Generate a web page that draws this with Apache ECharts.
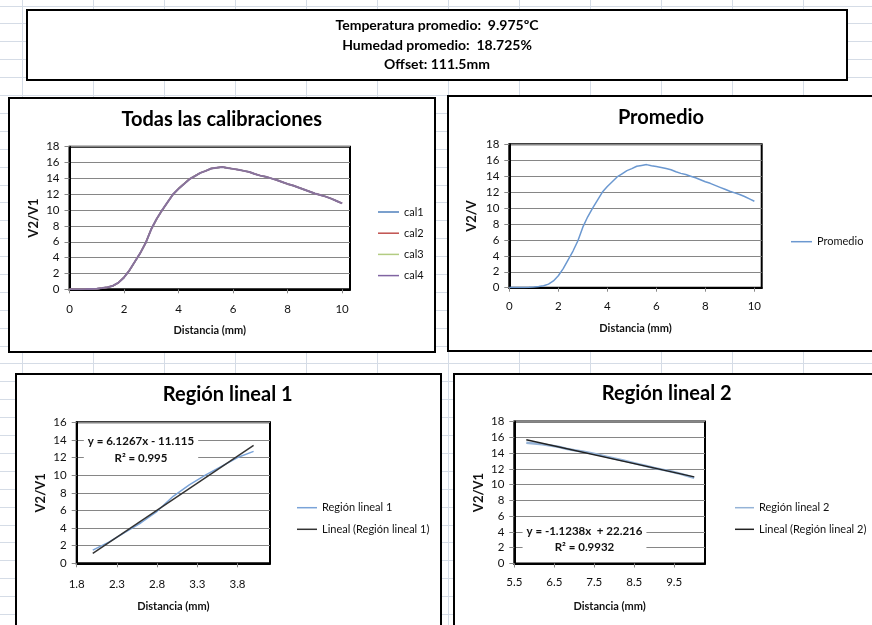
<!DOCTYPE html>
<html><head><meta charset="utf-8">
<script src="https://cdn.jsdelivr.net/npm/echarts@6/dist/echarts.min.js"></script>
<style>html,body{margin:0;padding:0;background:#fff}#c{width:872px;height:625px}</style>
</head><body><div id="c"></div>
<script>
// ---------- data ----------
const distancia = [0,0.2,0.4,0.6,0.8,1.0,1.2,1.4,1.6,1.8,2.0,2.2,2.4,2.6,2.8,3.0,3.2,3.4,3.6,3.8,4.0,4.2,4.4,4.6,4.8,5.0,5.2,5.4,5.6,5.8,6.0,6.2,6.4,6.6,6.8,7.0,7.2,7.4,7.6,7.8,8.0,8.2,8.4,8.6,8.8,9.0,9.2,9.4,9.6,9.8,10.0];
const promedio  = [0.02,0.02,0.02,0.03,0.05,0.08,0.15,0.25,0.45,0.85,1.5,2.4,3.5,4.6,5.9,7.6,8.9,10.0,11.0,12.0,12.7,13.3,13.9,14.3,14.7,14.95,15.25,15.35,15.45,15.3,15.2,15.1,14.95,14.8,14.55,14.35,14.2,14.0,13.8,13.55,13.3,13.1,12.85,12.6,12.35,12.1,11.9,11.7,11.45,11.15,10.85];
const cal1 = promedio.slice();
const cal2 = promedio.slice();
const cal3 = promedio.slice();
const cal4 = promedio.slice();
const region1Range = [2.0, 4.0];
const region2Range = [5.8, 10.0];
const trend1X = [2.0, 4.0];
const trend1Y = [1.14, 13.39];
const trend2X = [5.8, 10.0];
const trend2Y = [15.70, 10.98];
const eq1 = 'y = 6.1267x - 11.115', r2_1 = 'R² = 0.995';
const eq2 = 'y = -1.1238x  + 22.216', r2_2 = 'R² = 0.9932';
const header = ['Temperatura promedio:  9.975ºC', 'Humedad promedio:  18.725%', 'Offset: 111.5mm'];
const xTicksFull = [0,2,4,6,8,10];
const xTicksR1 = [1.8,2.3,2.8,3.3,3.8];
const xTicksR2 = [5.5,6.5,7.5,8.5,9.5];

// ---------- helpers ----------
const F = 'Lato, "Noto Sans", sans-serif';
const zip = (xs, ys) => xs.map((x, i) => [x, ys[i]]);
const sub = (range) => distancia.map((x, i) => [x, promedio[i]]).filter(p => p[0] >= range[0] - 1e-9 && p[0] <= range[1] + 1e-9);

const grids = [
  {left:69.5, top:146.7, width:280.5, height:142.6},
  {left:509.3, top:144.3, width:252.4, height:143.4},
  {left:76.7, top:422.3, width:193.3, height:141},
  {left:514.3, top:421.5, width:190.7, height:142}
].map(g => Object.assign(g, {show:true, borderColor:'#000', borderWidth:2, backgroundColor:'transparent'}));

function xAx(i, min, max, ticks, dec, labelMargin, nameGap) {
  return {gridIndex:i, type:'value', min:min, max:max,
    axisLine:{show:true, onZero:false, lineStyle:{color:'#000', width:2}},
    axisTick:{show:true, customValues:ticks, length:4, lineStyle:{color:'#888'}},
    axisLabel:{customValues:ticks, margin:labelMargin, fontSize:11.5, color:'#111', fontFamily:F,
      formatter: v => Number(v).toFixed(dec)},
    splitLine:{show:false},
    name:'Distancia (mm)', nameLocation:'middle', nameGap:nameGap,
    nameTextStyle:{fontWeight:'bold', fontSize:11, color:'#111', fontFamily:F}};
}
function yAx(i, max, name, nameGap) {
  return {gridIndex:i, type:'value', min:0, max:max, interval:2,
    axisLine:{show:true, onZero:false, lineStyle:{color:'#000', width:2}},
    axisTick:{show:true, length:5, lineStyle:{color:'#888'}},
    axisLabel:{margin:10, fontSize:11.5, color:'#111', fontFamily:F},
    splitLine:{show:true, lineStyle:{color:'#868686', width:1}},
    name:name, nameLocation:'middle', nameGap:nameGap,
    nameTextStyle:{fontWeight:'bold', fontSize:13, color:'#111', fontFamily:F}};
}
function line(name, gi, data, color, width, z, opacity) {
  return {name:name, type:'line', xAxisIndex:gi, yAxisIndex:gi, data:data, showSymbol:false,
    symbol:'none', color:color, z:z || 2,
    lineStyle:{color:color, width:width, opacity: opacity == null ? 1 : opacity}, animation:false};
}
function legend(names, left, top, itemWidth, gap) {
  return {data:names, orient:'vertical', left:left, top:top, itemWidth:itemWidth, itemHeight:1.5,
    itemGap:gap, icon:'rect', padding:0, selectedMode:false, itemStyle:{borderWidth:0},
    textStyle:{fontSize:11, color:'#111', fontFamily:F, lineHeight:14}};
}
function title(text, cx, top, size, lh) {
  return {text:text, left:cx, top:top, textAlign:'center', padding:0,
    textStyle:{fontSize:size, fontWeight:'bold', color:'#000', fontFamily:F, lineHeight:lh}};
}

// ---------- spreadsheet background ----------
const bg = [];
for (let y = 5.5; y < 625; y += 17.9) bg.push({type:'line', z:-20, silent:true,
  shape:{x1:0, y1:Math.round(y)+0.5, x2:872, y2:Math.round(y)+0.5}, style:{stroke:'#d5dce6', lineWidth:1}});
for (let x = 21.5; x < 872; x += 71.05) bg.push({type:'line', z:-20, silent:true,
  shape:{x1:Math.round(x)+0.5, y1:0, x2:Math.round(x)+0.5, y2:625}, style:{stroke:'#d5dce6', lineWidth:1}});
const boxes = [
  [27, 10, 820, 70],
  [9, 98, 426, 254],
  [448, 96, 440, 255],
  [16, 374, 425, 280],
  [454, 374, 440, 280]
].map(b => ({type:'rect', z:-10, silent:true, shape:{x:b[0], y:b[1], width:b[2], height:b[3]},
  style:{fill:'#fff', stroke:'#000', lineWidth:2}}));
const eqTexts = [
  {type:'text', z:50, x:141, y:450, style:{text:eq1 + '\n' + r2_1, font:'bold 11.5px ' + F, fill:'#111',
    align:'center', verticalAlign:'middle', lineHeight:16.6, backgroundColor:'#fff', padding:[1,4]}},
  {type:'text', z:50, x:584.5, y:539.5, style:{text:eq2 + '\n' + r2_2, font:'bold 11.5px ' + F, fill:'#111',
    align:'center', verticalAlign:'middle', lineHeight:15.6, backgroundColor:'#fff', padding:[1,4]}}
];

const chart = echarts.init(document.getElementById('c'), null, {renderer:'canvas'});
chart.setOption({
  animation:false,
  backgroundColor:'#fff',
  title:[
    title(header.join('\n'), 437, 15.75, 14, 19.5),
    title('Todas las calibraciones', 221.7, 107.5, 20, 24),
    title('Promedio', 661, 105.5, 20, 24),
    title('Región lineal 1', 227.7, 382.5, 20, 24),
    title('Región lineal 2', 666.7, 382, 20, 24)
  ],
  grid: grids,
  xAxis:[
    xAx(0, 0, 10.29, xTicksFull, 0, 14, 36),
    xAx(1, 0, 10.3, xTicksFull, 0, 13, 35),
    xAx(2, 1.8, 4.204, xTicksR1, 1, 14.5, 37.5),
    xAx(3, 5.5, 10.27, xTicksR2, 1, 13, 37)
  ],
  yAxis:[
    yAx(0, 18, 'V2/V1', 29.5),
    yAx(1, 18, 'V2/V', 30.5),
    yAx(2, 16, 'V2/V1', 29.5),
    yAx(3, 18, 'V2/V1', 29)
  ],
  legend:[
    legend(['cal1','cal2','cal3','cal4'], 378, 205, 21, 7.2),
    legend(['Promedio'], 791, 234.7, 21, 7),
    legend(['Región lineal 1','Lineal (Región lineal 1)'], 297, 500.7, 20, 7.6),
    legend(['Región lineal 2','Lineal (Región lineal 2)'], 735, 500.7, 19, 7.6)
  ],
  graphic:{elements: bg.concat(boxes, eqTexts)},
  series:[
    line('cal1', 0, zip(distancia, cal1), '#4F81BD', 1.5, 2),
    line('cal2', 0, zip(distancia, cal2), '#C0504D', 1.5, 3),
    line('cal3', 0, zip(distancia, cal3), '#b3cc82', 1.5, 4),
    line('cal4', 0, zip(distancia, cal4), '#8064A2', 2, 5, 0.85),
    line('Promedio', 1, zip(distancia, promedio), '#6b98d0', 1.5, 2),
    line('Región lineal 1', 2, sub(region1Range), '#7aa3d8', 1.5, 2),
    line('Lineal (Región lineal 1)', 2, zip(trend1X, trend1Y), '#333333', 1.5, 3),
    line('Región lineal 2', 3, sub(region2Range), '#95b3d7', 2.5, 2),
    line('Lineal (Región lineal 2)', 3, zip(trend2X, trend2Y), '#222222', 1.5, 3)
  ]
});
</script></body></html>
